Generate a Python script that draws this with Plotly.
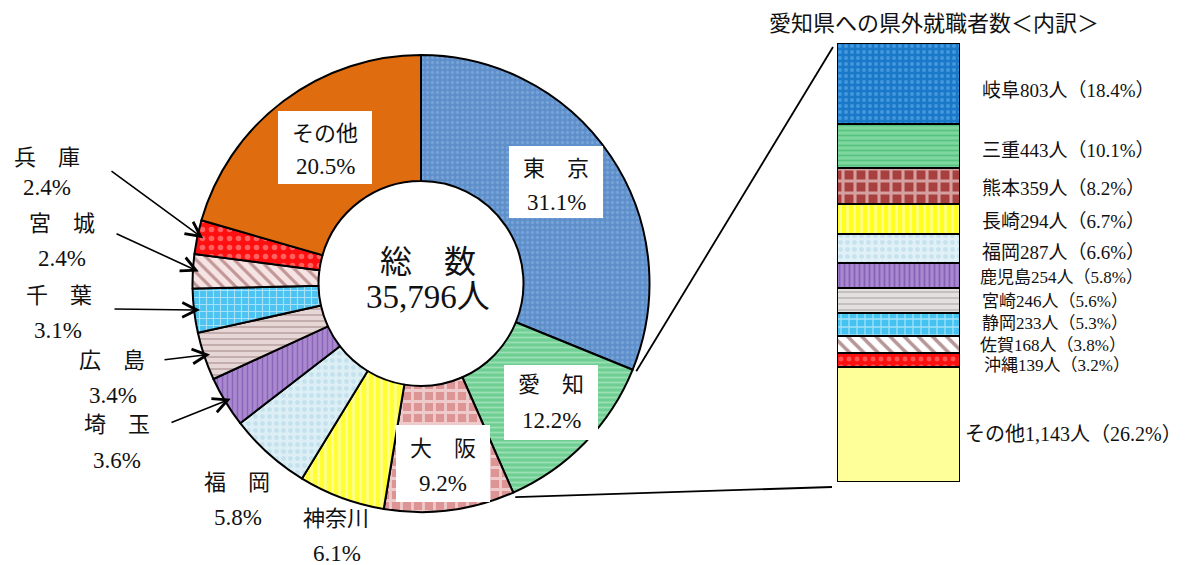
import math
import plotly.graph_objects as go

W, H = 1196, 565

# ---------------- data ----------------
pie_labels = ["東京", "愛知", "大阪", "神奈川", "福岡", "埼玉", "広島", "千葉", "宮城", "兵庫", "その他"]
pie_names = ["東　京", "愛　知", "大　阪", "神奈川", "福　岡", "埼　玉", "広　島", "千　葉", "宮　城", "兵　庫", "その他"]
pie_share = [31.1, 12.2, 9.2, 6.1, 5.8, 3.6, 3.4, 3.1, 2.4, 2.4, 20.5]
total_workers = 35796

aichi_labels = ["岐阜", "三重", "熊本", "長崎", "福岡", "鹿児島", "宮崎", "静岡", "佐賀", "沖縄", "その他"]
aichi_counts = [803, 443, 359, 294, 287, 254, 246, 233, 168, 139, 1143]
aichi_share = [18.4, 10.1, 8.2, 6.7, 6.6, 5.8, 5.6, 5.3, 3.8, 3.2, 26.2]

title_text = "愛知県への県外就職者数＜内訳＞"

# ---------------- styles ----------------
FONT = "Liberation Serif, Noto Sans CJK JP, serif"

pie_bg = ["#5E8FCB", "#6FCF92", "#DC9494", "#FFFF33", "#DDEFF5", "#A98ACF",
          "#E6D6D6", "#4CC3F0", "#F6E4E4", "#FF1010", "#E06C10"]
pie_fg = ["#8CB6E4", "#C8F2D8", "#FFFFFF", "#FFFFFF", "#A9D6E6", "#7040A8",
          "#8E6A6A", "#FFFFFF", "#8B4848", "#FFB0B0", "#E06C10"]
pie_shape = [".", "-", "+", "|", ".", "|", "-", "+", "\\", ".", ""]
pie_psize = [5, 5, 11, 7, 7, 5, 6, 7, 9, 9, 8]
pie_solid = [0.35, 0.35, 0.45, 0.35, 0.4, 0.3, 0.25, 0.3, 0.35, 0.3, 0.3]

bar_bg = ["#1A78C8", "#7FD7A0", "#A84040", "#FFFF20", "#E2F1F7", "#A888CF",
          "#E4E0E0", "#44C2F0", "#FFFFFF", "#FF1010", "#FFFF99"]
bar_fg = ["#6CB8F2", "#2FB060", "#FFFFFF", "#FFFFFF", "#A9D6E6", "#6A3AA0",
          "#8A8A8A", "#FFFFFF", "#6E3030", "#FF9A9A", "#FFFF99"]
bar_shape = [".", "-", "+", "|", ".", "|", "-", "+", "\\", ".", ""]
bar_psize = [6, 5, 12, 7, 7, 5, 6, 8, 10, 8, 8]
bar_solid = [0.35, 0.35, 0.45, 0.35, 0.4, 0.35, 0.25, 0.3, 0.35, 0.3, 0.3]

# ---------------- geometry (pixels) ----------------
CX, CY, R = 421.0, 283.5, 228.5
HOLE = 102.5 / R
BAR_L, BAR_R, BAR_T, BAR_B = 837.0, 960.0, 43.0, 482.0


def px(x, y):
    return x / W, 1 - y / H


def pie_point(frac, r):
    a = 2 * math.pi * frac
    return CX + r * math.sin(a), CY - r * math.cos(a)


def text_ann(x, y, txt, size, anchor="center"):
    xx, yy = px(x, y)
    return dict(x=xx, y=yy, xref="paper", yref="paper", text=txt, showarrow=False,
                xanchor=anchor, yanchor="middle",
                font=dict(family=FONT, size=size, color="#111"))


total_share = sum(pie_share)
cum = []
c = 0.0
for v in pie_share:
    cum.append(c)
    c += v
mid_frac = [(cum[i] + pie_share[i] / 2) / total_share for i in range(len(pie_share))]

fig = go.Figure()

fig.add_trace(go.Pie(
    labels=pie_labels,
    values=pie_share,
    sort=False,
    direction="clockwise",
    rotation=0,
    hole=HOLE,
    textinfo="none",
    hoverinfo="label+percent",
    marker=dict(
        colors=pie_bg,
        line=dict(color="black", width=2),
        pattern=dict(shape=pie_shape, fgcolor=pie_fg, bgcolor=pie_bg,
                     size=pie_psize, solidity=pie_solid, fillmode="overlay"),
    ),
    domain=dict(x=[(CX - R) / W, (CX + R) / W], y=[1 - (CY + R) / H, 1 - (CY - R) / H]),
    showlegend=False,
))

# stacked bar, bottom to top
total_aichi = sum(aichi_counts)
for i in reversed(range(len(aichi_labels))):
    fig.add_trace(go.Bar(
        x=[0], y=[aichi_counts[i]], width=[1.0], name=aichi_labels[i],
        marker=dict(color=bar_bg[i], line=dict(color="black", width=2.5),
                    pattern=dict(shape=bar_shape[i], fgcolor=bar_fg[i], bgcolor=bar_bg[i],
                                 size=bar_psize[i], solidity=bar_solid[i], fillmode="overlay")),
        showlegend=False, hoverinfo="name+y",
    ))

annotations = []
shapes = []

# ---- center text ----
annotations.append(text_ann(428, 262, "総　数", 32))
annotations.append(text_ann(428, 297, f"{total_workers:,}人", 33))

# ---- boxed labels ----
boxed = {  # index: (cx, box_top, box_bottom, line1_y, line2_y, half_width)
    0: (556, 146, 218, 168, 202, 47),
    1: (551, 365, 440, 384, 420, 47),
    2: (443, 425, 502, 448, 483, 47),
    10: (325, 111, 184, 133, 167, 47),
}
for i, (bx, t, b, l1, l2, hw) in boxed.items():
    x0, y0 = px(bx - hw, b)
    x1, y1 = px(bx + hw, t)
    shapes.append(dict(type="rect", xref="paper", yref="paper", x0=x0, x1=x1, y0=y0, y1=y1,
                       fillcolor="white", line=dict(width=0), layer="above"))
    annotations.append(text_ann(bx, l1, pie_names[i], 22))
    annotations.append(text_ann(bx, l2, f"{pie_share[i]}%", 23))

# ---- outside labels ----
outside = {  # index: (cx, line1_y, line2_y, cx2, arrow tail or None)
    9: (47, 157, 188, 47, (110, 170)),
    8: (62, 223, 258, 62, (115, 233)),
    7: (59, 295, 330, 58, (113, 309)),
    6: (112, 360, 395, 113, (163, 360)),
    5: (117, 425, 460, 117, (170, 423)),
    4: (237, 482, 517, 238, None),
    3: (336, 518, 553, 337, None),
}
for i, (lx, l1, l2, lx2, tail) in outside.items():
    annotations.append(text_ann(lx, l1, pie_names[i], 22))
    annotations.append(text_ann(lx2, l2, f"{pie_share[i]}%", 23))
    if tail is not None:
        tx, ty = pie_point(mid_frac[i], R - 6)
        x0, y0 = px(tx, ty)
        annotations.append(dict(x=x0, y=y0, xref="paper", yref="paper", text="", showarrow=True,
                                ax=tail[0] - tx, ay=tail[1] - ty, axref="pixel", ayref="pixel",
                                arrowhead=5, arrowsize=1.8, arrowwidth=1.6, arrowcolor="black",
                                standoff=0))

# ---- connector lines from 愛知 slice to bar ----
f_start = cum[1] / total_share
f_end = (cum[1] + pie_share[1]) / total_share
sx, sy = pie_point(f_start, R + 4)
ex, ey = pie_point(f_end, R + 5)
for (ax0, ay0), (bx1, by1) in [((sx, sy), (BAR_L - 4, BAR_T + 4)), ((ex, ey), (BAR_L - 5, BAR_B + 5))]:
    p0 = px(ax0, ay0)
    p1 = px(bx1, by1)
    shapes.append(dict(type="line", xref="paper", yref="paper", x0=p0[0], y0=p0[1], x1=p1[0], y1=p1[1],
                       line=dict(color="black", width=1.8)))

# ---- bar labels ----
bar_font = [19, 19, 19, 19, 19, 17, 17, 17, 17, 17, 20]
bar_yshift = [-7, -5, -2, -2, -4, -2, -1, 1, -1, -5, -9]
bar_xshift = [0, 0, 0, 0, 0, -2, 0, 0, -2, 2, -17]
c = 0
mids = []
for i in range(len(aichi_counts)):
    mids.append(total_aichi - (c + aichi_counts[i] / 2))
    c += aichi_counts[i]
for i in range(len(aichi_labels)):
    annotations.append(dict(x=0.5, y=mids[i], xref="x", yref="y", xanchor="left", yanchor="middle",
                            text=f"{aichi_labels[i]}{aichi_counts[i]:,}人（{aichi_share[i]}%）",
                            showarrow=False, xshift=20 + bar_xshift[i], yshift=bar_yshift[i],
                            font=dict(family=FONT, size=bar_font[i], color="#111")))

annotations.append(text_ann(767, 23, title_text, 22, anchor="left"))

fig.update_layout(
    width=W, height=H,
    margin=dict(l=0, r=0, t=0, b=0),
    paper_bgcolor="white", plot_bgcolor="white",
    barmode="stack", bargap=0,
    showlegend=False,
    xaxis=dict(domain=[BAR_L / W, BAR_R / W], range=[-0.5, 0.5], visible=False, fixedrange=True),
    yaxis=dict(domain=[1 - BAR_B / H, 1 - BAR_T / H], range=[0, total_aichi], visible=False, fixedrange=True),
    annotations=annotations,
    shapes=shapes,
)

fig.write_html("out.html", config={"displayModeBar": False},
               post_script="document.body.style.margin='0';document.body.style.overflow='hidden';")
